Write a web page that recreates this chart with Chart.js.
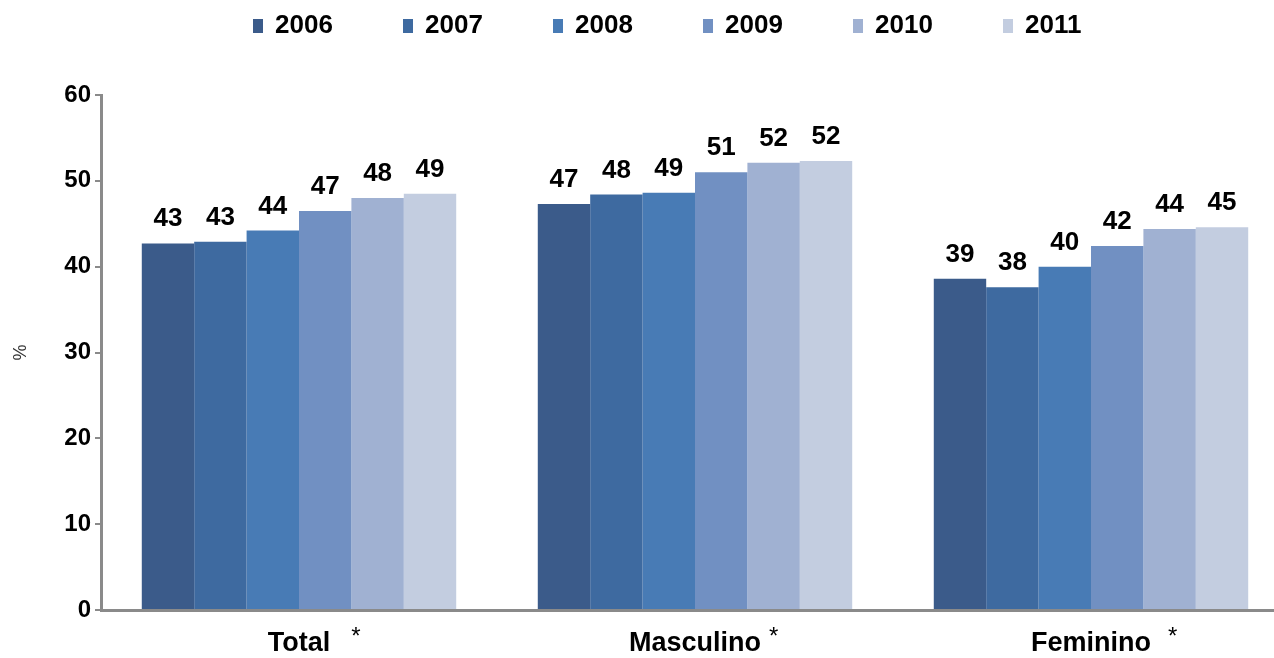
<!DOCTYPE html>
<html><head><meta charset="utf-8">
<script src="https://cdn.jsdelivr.net/npm/chart.js@4"></script>
<style>
html,body{margin:0;padding:0;background:#fff;overflow:hidden;width:1274px;height:658px}
#wrap{position:absolute;left:0;top:0;width:1292px;height:658px}
</style></head><body>
<div id="wrap"><canvas id="c" width="1292" height="658"></canvas></div>
<script>
const categories = ['Total', 'Masculino', 'Feminino'];
const years = ['2006', '2007', '2008', '2009', '2010', '2011'];
const v2006 = [42.7, 47.3, 38.6];
const v2007 = [42.9, 48.4, 37.6];
const v2008 = [44.2, 48.6, 40.0];
const v2009 = [46.5, 51.0, 42.4];
const v2010 = [48.0, 52.1, 44.4];
const v2011 = [48.5, 52.3, 44.6];
const yMin = 0, yMax = 60, yStep = 10;
const catMarks = ['*', '*', '*'];

const colors = ['#3B5B8A', '#3E6AA0', '#487BB5', '#7190C2', '#A0B1D2', '#C3CDE0'];
const series = [v2006, v2007, v2008, v2009, v2010, v2011];
const FF = "'Liberation Sans', Arial, sans-serif";
const AXIS = '#8a8a8a';

const dataLabels = {
  id: 'dataLabels',
  afterDatasetsDraw(chart) {
    const ctx = chart.ctx;
    ctx.save();
    ctx.font = 'bold 26px ' + FF;
    ctx.fillStyle = '#000';
    ctx.textAlign = 'center';
    ctx.textBaseline = 'alphabetic';
    chart.data.datasets.forEach((ds, i) => {
      chart.getDatasetMeta(i).data.forEach((bar, j) => {
        ctx.fillText(String(Math.round(ds.data[j])), bar.x, bar.y - 17);
      });
    });
    ctx.restore();
  }
};

const extras = {
  id: 'extras',
  afterDraw(chart) {
    const ctx = chart.ctx;
    ctx.save();
    // asterisks after category labels
    const xs = chart.scales.x;
    const gaps = [21, 8, 17];
    categories.forEach((c, i) => {
      ctx.font = 'bold 27px ' + FF;
      const w = ctx.measureText(c).width;
      const x = xs.getPixelForValue(i) + w / 2 + gaps[i];
      ctx.font = '24px ' + FF;
      ctx.fillStyle = '#000';
      ctx.textAlign = 'left';
      ctx.textBaseline = 'alphabetic';
      ctx.fillText(catMarks[i], x, 644);
    });
    // legend
    chart.data.datasets.forEach((ds, i) => {
      const x0 = 253 + i * 150;
      ctx.fillStyle = ds.backgroundColor;
      ctx.fillRect(x0, 19, 10, 14);
      ctx.fillStyle = '#000';
      ctx.font = 'bold 26px ' + FF;
      ctx.textAlign = 'left';
      ctx.textBaseline = 'middle';
      ctx.fillText(ds.label, x0 + 22, 26);
    });
    ctx.restore();
  }
};

new Chart(document.getElementById('c'), {
  type: 'bar',
  data: {
    labels: categories,
    datasets: years.map((y, i) => ({
      label: y,
      data: series[i],
      backgroundColor: colors[i],
      borderWidth: 0,
      categoryPercentage: 0.794,
      barPercentage: 1.0
    }))
  },
  options: {
    responsive: false,
    devicePixelRatio: 1,
    animation: false,
    layout: { padding: { top: 95, right: 3, left: 0, bottom: 0 } },
    plugins: { legend: { display: false }, tooltip: { enabled: false } },
    scales: {
      x: {
        offset: true,
        grid: { display: false, drawTicks: false },
        border: { display: true, color: AXIS, width: 3 },
        ticks: { color: '#000', font: { family: FF, size: 27, weight: 'bold' }, padding: 17, maxRotation: 0 },
        afterFit: s => { s.height = 48; }
      },
      y: {
        min: yMin, max: yMax,
        ticks: { stepSize: yStep, color: '#000', font: { family: FF, size: 24, weight: 'bold' }, padding: 4 },
        grid: { drawOnChartArea: false, drawTicks: true, tickLength: 6, color: AXIS, lineWidth: 2 },
        border: { display: true, color: AXIS, width: 3 },
        title: { display: true, text: '%', color: '#333', font: { family: FF, size: 18 }, padding: { top: 10, bottom: 0 } },
        afterFit: s => { s.width = 101; }
      }
    }
  },
  plugins: [dataLabels, extras]
});
</script>
</body></html>
